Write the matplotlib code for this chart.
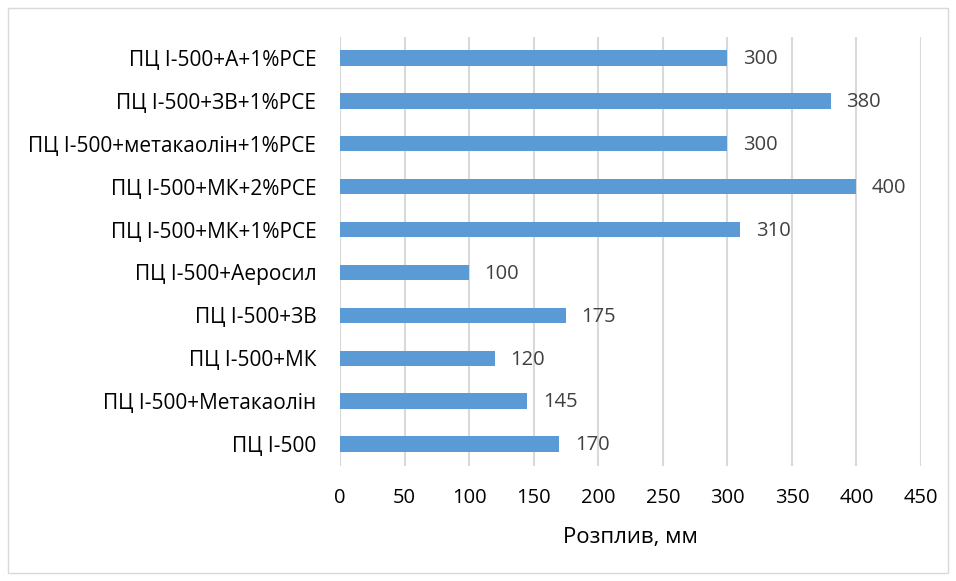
import matplotlib
matplotlib.use("Agg")
import matplotlib.pyplot as plt
from matplotlib.patches import Rectangle

categories = [
    "ПЦ І-500",
    "ПЦ І-500+Метакаолін",
    "ПЦ І-500+МК",
    "ПЦ І-500+ЗВ",
    "ПЦ І-500+Аеросил",
    "ПЦ І-500+МК+1%PCE",
    "ПЦ І-500+МК+2%PCE",
    "ПЦ І-500+метакаолін+1%PCE",
    "ПЦ І-500+ЗВ+1%PCE",
    "ПЦ І-500+А+1%PCE",
]
values = [170, 145, 120, 175, 100, 310, 400, 300, 380, 300]
x_ticks = [0, 50, 100, 150, 200, 250, 300, 350, 400, 450]
x_label = "Розплив, мм"

plt.rcParams["font.family"] = ["Open Sans", "DejaVu Sans"]

W, H = 956, 581
fig = plt.figure(figsize=(W / 100, H / 100), dpi=100)
fig.patches.append(Rectangle((8 / W, 8 / H), (W - 16) / W, (H - 16) / H,
                             transform=fig.transFigure, fill=False,
                             edgecolor="#D9D9D9", linewidth=1.0))

ax = fig.add_axes([340 / W, 1 - 465.5 / H, (921 - 340) / W, (465.5 - 36.5) / H])
ypos = list(range(len(categories)))
ax.barh(ypos, values, height=0.36, color="#5B9BD5", zorder=3)
for y, v in zip(ypos, values):
    ax.text(v + 12, y - 0.03, str(v), va="center", ha="left", fontsize=14.5,
            color="#404040", zorder=4)

ax.set_xlim(0, 450)
ax.set_ylim(-0.5, len(categories) - 0.5)
ax.set_xticks(x_ticks)
ax.set_xticklabels([str(t) for t in x_ticks], fontsize=14.5, color="#000000")
ax.set_yticks(ypos)
ax.set_yticklabels(categories, fontsize=15, color="#000000")
ax.tick_params(axis="both", length=0)
ax.tick_params(axis="x", pad=16)
ax.tick_params(axis="y", pad=17)
ax.grid(axis="x", color="#D9D9D9", linewidth=1.5, zorder=0)
for s in ax.spines.values():
    s.set_visible(False)
ax.set_xlabel(x_label, fontsize=16, labelpad=14)

fig.savefig("out.png", dpi=100)
